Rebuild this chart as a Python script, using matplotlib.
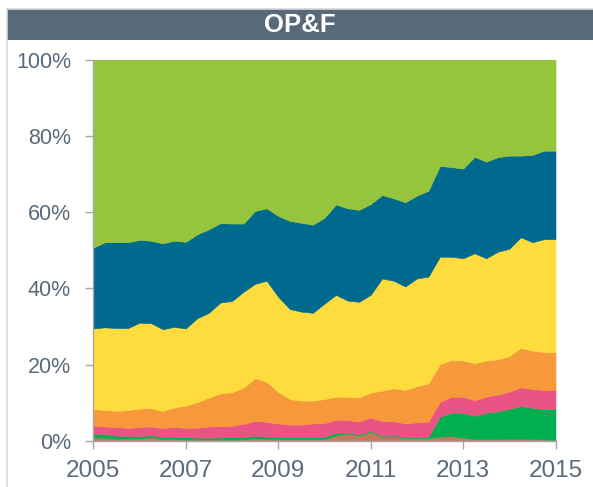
import matplotlib
matplotlib.use("Agg")
import matplotlib.pyplot as plt
from matplotlib.patches import Rectangle
from matplotlib.lines import Line2D
import numpy as np

# quarterly observations 2005.00 ... 2015.00
quarters = [2005 + 0.25 * i for i in range(41)]

brown = [1.0, 0.8, 0.6, 0.6, 0.7, 1.0, 0.5, 0.6, 0.4, 0.4, 0.4, 0.4, 0.4, 0.4, 0.7, 0.6,
         0.5, 0.5, 0.5, 0.5, 0.5, 1.5, 1.9, 1.4, 2.4, 1.1, 1.1, 0.8, 0.8, 0.8, 1.1, 1.3,
         0.9, 0.5, 0.5, 0.5, 0.6, 0.6, 0.5, 0.4, 0.3]
green = [0.8, 1.0, 0.8, 0.7, 0.6, 0.5, 0.5, 0.5, 0.6, 0.5, 0.4, 0.6, 0.6, 0.6, 0.7, 0.5,
         0.6, 0.6, 0.6, 0.6, 0.6, 0.7, 0.3, 0.3, 0.3, 0.3, 0.3, 0.2, 0.2, 0.3, 5.3, 6.1,
         6.5, 6.1, 6.9, 7.3, 7.8, 8.6, 8.2, 8.0, 8.0]
pink = [2.2, 2.0, 2.3, 2.1, 2.4, 2.3, 2.4, 2.6, 2.4, 2.6, 3.0, 2.9, 3.0, 3.5, 3.9, 3.9,
        3.5, 3.2, 3.2, 3.5, 3.6, 3.4, 3.3, 3.4, 3.5, 3.8, 3.8, 3.6, 3.9, 4.0, 3.9, 4.2,
        4.2, 4.1, 4.2, 4.4, 4.5, 4.9, 4.9, 5.0, 5.1]
orange = [4.4, 4.3, 4.2, 4.7, 4.8, 4.8, 4.5, 5.1, 5.9, 6.7, 7.6, 8.6, 8.8, 9.5, 11.2, 10.5,
          8.3, 6.7, 6.3, 6.0, 6.3, 6.0, 6.1, 6.3, 6.5, 8.0, 8.6, 8.8, 9.5, 10.0, 9.9, 9.6,
          9.5, 9.7, 9.5, 9.2, 9.4, 10.3, 10.1, 9.9, 9.9]
yellow = [21.1, 21.7, 21.7, 21.5, 22.5, 22.3, 21.4, 21.1, 20.2, 22.0, 22.2, 23.8, 23.9, 25.1,
          24.7, 26.5, 24.9, 23.6, 23.3, 23.0, 25.0, 26.7, 25.2, 25.1, 25.6, 29.4, 28.2, 27.1,
          28.2, 28.0, 28.1, 27.1, 26.8, 28.8, 26.8, 28.2, 28.1, 29.0, 28.4, 29.6, 29.6]
blue = [21.2, 22.3, 22.5, 22.5, 21.7, 21.6, 22.5, 22.6, 22.7, 22.0, 21.9, 20.8, 20.3, 17.9,
        19.1, 19.0, 21.2, 23.1, 23.3, 23.1, 22.5, 23.7, 24.2, 24.1, 23.8, 21.9, 21.6, 22.1,
        21.7, 22.5, 23.8, 23.5, 23.5, 25.3, 25.3, 24.8, 24.4, 21.4, 22.9, 23.2, 23.2]
lightgreen = [49.3, 47.9, 47.9, 47.9, 47.3, 47.5, 48.2, 47.5, 47.8, 45.8, 44.5, 42.9, 43.0,
              43.0, 39.7, 39.0, 41.0, 42.3, 42.8, 43.3, 41.5, 38.0, 39.0, 39.4, 37.9, 35.5,
              36.4, 37.4, 35.7, 34.4, 27.9, 28.2, 28.6, 25.5, 26.8, 25.6, 25.2, 25.2, 25.0,
              23.9, 23.9]

series = [brown, green, pink, orange, yellow, blue, lightgreen]
colors = ["#c47a58", "#00b050", "#ea5484", "#f7993a", "#fedc3e", "#006a8e", "#97c43d"]

title = "OP&F"
x_ticks = [2005, 2007, 2009, 2011, 2013, 2015]
y_ticks = [0, 20, 40, 60, 80, 100]
y_ticklabels = [f"{v}%" for v in y_ticks]

W, H = 593, 487
fig = plt.figure(figsize=(W / 100, H / 100), dpi=100)
fig.patch.set_facecolor("white")

font = "Liberation Sans"
label_color = "#5a6a7a"
axis_color = "#a6a6a6"

# frame lines of the chart box
fig.add_artist(Line2D([7.3 / W, 7.3 / W], [0, 1 - 8.7 / H], transform=fig.transFigure,
                      color="#d9d9d9", lw=1.2))
fig.add_artist(Line2D([7.3 / W, 1], [1 - 8.7 / H, 1 - 8.7 / H], transform=fig.transFigure,
                      color="#d9d9d9", lw=1.2))

# title bar
fig.add_artist(Rectangle((7.3 / W, 1 - 39.5 / H), 1 - 7.3 / W, 30 / H,
                         transform=fig.transFigure, facecolor="#586a7a", edgecolor="none"))
fig.text((7.3 / W + 1) / 2, 1 - 24.5 / H, title, ha="center", va="center",
         color="white", fontsize=18.5, fontweight="bold", family=font)

ax = fig.add_axes([93.3 / W, 1 - 441 / H, (555.5 - 93.3) / W, (441 - 59.5) / H])
ax.stackplot(quarters, *series, colors=colors, linewidth=0.4,
             edgecolors=colors)
for coll, c in zip(ax.collections, colors):
    coll.set_edgecolor(c)

ax.set_xlim(2005, 2015)
ax.set_ylim(0, 100)
ax.set_xticks(x_ticks)
ax.set_xticklabels([str(t) for t in x_ticks])
ax.set_yticks(y_ticks)
ax.set_yticklabels(y_ticklabels)

for s in ["top", "right"]:
    ax.spines[s].set_visible(False)
for s in ["left", "bottom"]:
    ax.spines[s].set_color(axis_color)
    ax.spines[s].set_linewidth(1.0)
    ax.spines[s].set_zorder(5)

ax.tick_params(axis="y", length=6, width=1, color=axis_color, pad=10,
               labelsize=15.5, labelcolor=label_color)
ax.tick_params(axis="x", length=6, width=1, color=axis_color, pad=8,
               labelsize=17.5, labelcolor=label_color)
for lab in ax.get_xticklabels() + ax.get_yticklabels():
    lab.set_family(font)

fig.savefig("out.png", dpi=100, facecolor="white")
